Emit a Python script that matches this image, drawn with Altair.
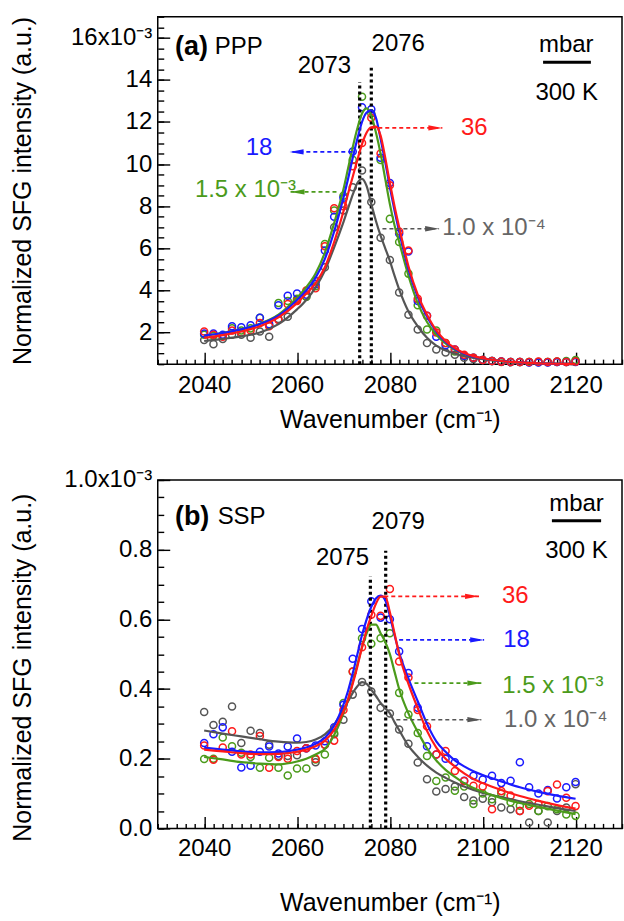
import altair as alt
import pandas as pd

FONT = "Liberation Sans"
RED = "#ff1a1a"
BLUE = "#1a1aff"
GREEN = "#4b9b1b"
GRAY = "#555555"
GRAY_TXT = "#666666"

series = ["1.0e-4", "1.5e-3", "18", "36"]
colors = [GRAY, GREEN, BLUE, RED]

# measured points, every 2 cm-1
x_pts = list(range(2040, 2121, 2))

# panel (a) PPP, units of 1e-3
a_gray = [1.65, 1.45, 1.7, 1.9, 1.9, 1.75, 2.05, 1.8, 2.65, 2.75, 3.55, 3.7, 4.45, 5.1, 7.0, 7.8, 8.9, 9.7, 8.2, 6.5,
          5.45, 3.9, 2.85, 2.15, 1.5, 1.2, 1.05, 0.95, 0.8, 0.75, 0.7, 0.65, 0.62, 0.6, 0.6, 0.6, 0.6, 0.6, 0.6, 0.6, 0.65]
a_green = [1.9, 1.85, 1.85, 2.2, 2.1, 2.2, 2.7, 2.35, 3.4, 3.5, 3.6, 3.7, 4.2, 6.2, 7.8, 8.5, 10.2, 13.2, 12.4, 10.2,
           7.4, 6.3, 4.8, 3.3, 2.15, 2.1, 1.5, 1.1, 0.9, 0.8, 0.7, 0.65, 0.6, 0.6, 0.6, 0.6, 0.6, 0.6, 0.62, 0.65, 0.7]
a_blue = [1.95, 1.95, 1.9, 2.3, 2.25, 2.35, 2.7, 2.4, 3.3, 3.75, 3.85, 3.8, 4.3, 5.9, 7.5, 8.4, 10.6, 12.7, 12.6, 10.3,
          9.1, 6.7, 5.85, 3.5, 2.8, 1.8, 1.4, 1.2, 0.9, 0.8, 0.7, 0.65, 0.62, 0.6, 0.6, 0.58, 0.58, 0.58, 0.6, 0.6, 0.6]
a_red = [2.05, 1.9, 1.8, 2.1, 2.0, 2.1, 2.45, 2.3, 2.6, 3.35, 3.5, 4.0, 4.1, 6.1, 7.9, 8.0, 9.9, 11.0, 12.2, 10.5,
         9.0, 6.8, 5.9, 3.6, 2.8, 2.0, 1.5, 1.2, 0.95, 0.8, 0.7, 0.65, 0.62, 0.6, 0.6, 0.6, 0.62, 0.6, 0.62, 0.6, 0.62]

# panel (b) SSP, units of 1e-3
b_gray = [0.334, 0.297, 0.306, 0.35, 0.245, 0.28, 0.274, 0.24, 0.208, 0.208, 0.21, 0.23, 0.19, 0.24, 0.27, 0.312,
          0.384, 0.42, 0.393, 0.346, 0.33, 0.284, 0.243, 0.189, 0.141, 0.106, 0.113, 0.12, 0.09, 0.08, 0.085, 0.075,
          0.06, 0.055, 0.05, 0.017, 0.05, 0.017, 0.05, 0.06, 0.127]
b_green = [0.199, 0.2, 0.261, 0.236, 0.217, 0.205, 0.174, 0.203, 0.174, 0.152, 0.172, 0.172, 0.198, 0.212, 0.274,
           0.36, 0.45, 0.546, 0.53, 0.546, 0.56, 0.389, 0.327, 0.274, 0.208, 0.136, 0.146, 0.108, 0.12, 0.07, 0.1,
           0.084, 0.1, 0.075, 0.065, 0.07, 0.05, 0.064, 0.055, 0.04, 0.036]
b_blue = [0.245, 0.27, 0.29, 0.22, 0.175, 0.18, 0.22, 0.235, 0.215, 0.235, 0.258, 0.23, 0.238, 0.25, 0.29, 0.355,
          0.487, 0.572, 0.652, 0.605, 0.6, 0.508, 0.446, 0.346, 0.236, 0.212, 0.2, 0.19, 0.137, 0.151, 0.14, 0.151,
          0.13, 0.137, 0.19, 0.118, 0.1, 0.11, 0.086, 0.118, 0.133]
b_red = [0.238, 0.197, 0.232, 0.279, 0.212, 0.212, 0.265, 0.174, 0.205, 0.2, 0.222, 0.23, 0.2, 0.24, 0.252, 0.34,
         0.45, 0.52, 0.613, 0.61, 0.687, 0.479, 0.433, 0.34, 0.293, 0.212, 0.222, 0.165, 0.136, 0.122, 0.12, 0.055,
         0.107, 0.094, 0.05, 0.065, 0.07, 0.107, 0.126, 0.088, 0.064]

# fitted curves
x_fit = [2040, 2044, 2048, 2052, 2056, 2060, 2062, 2064, 2066, 2068, 2070, 2071, 2072, 2073, 2074, 2075, 2076,
         2077, 2078, 2079, 2080, 2081, 2082, 2084, 2086, 2088, 2090, 2092, 2094, 2096, 2098, 2100, 2104, 2108,
         2112, 2116, 2120]
fa_blue = [1.86, 1.98, 2.15, 2.4, 2.8, 3.55, 4.0, 4.6, 5.5, 6.8, 8.4, 9.3, 10.3, 11.2, 12.0, 12.45, 12.55, 12.2,
           11.2, 10.1, 8.9, 7.8, 6.8, 5.0, 3.7, 2.75, 2.05, 1.55, 1.22, 1.0, 0.86, 0.77, 0.65, 0.58, 0.54, 0.52, 0.5]
fa_green = [1.86, 1.98, 2.15, 2.42, 2.85, 3.65, 4.15, 4.8, 5.8, 7.2, 8.8, 9.8, 10.8, 11.7, 12.4, 12.65, 12.3, 11.5,
            10.5, 9.3, 8.1, 7.1, 6.3, 4.7, 3.4, 2.5, 1.9, 1.48, 1.18, 0.98, 0.85, 0.76, 0.64, 0.57, 0.54, 0.52, 0.5]
fa_red = [1.75, 1.88, 2.05, 2.3, 2.72, 3.4, 3.85, 4.35, 5.1, 6.3, 7.75, 8.6, 9.4, 10.2, 10.95, 11.5, 11.75, 11.78,
          11.35, 10.3, 9.1, 8.0, 7.0, 5.15, 3.8, 2.85, 2.1, 1.6, 1.26, 1.03, 0.88, 0.78, 0.65, 0.58, 0.54, 0.52, 0.5]
fa_gray = [1.6, 1.7, 1.82, 2.0, 2.4, 3.1, 3.55, 4.15, 4.95, 6.05, 7.25, 7.9, 8.55, 9.1, 9.3, 8.95, 8.1, 7.3, 6.6,
           6.0, 5.4, 4.7, 4.05, 3.0, 2.3, 1.75, 1.38, 1.15, 1.0, 0.88, 0.8, 0.74, 0.64, 0.58, 0.54, 0.52, 0.5]

fb_blue = [0.232, 0.226, 0.221, 0.218, 0.219, 0.226, 0.232, 0.243, 0.26, 0.295, 0.355, 0.395, 0.445, 0.5, 0.555,
           0.6, 0.636, 0.66, 0.668, 0.655, 0.61, 0.555, 0.505, 0.43, 0.365, 0.3, 0.25, 0.22, 0.195, 0.178, 0.164,
           0.153, 0.135, 0.118, 0.105, 0.094, 0.085]
fb_red = [0.226, 0.221, 0.216, 0.213, 0.214, 0.22, 0.226, 0.236, 0.252, 0.283, 0.335, 0.37, 0.415, 0.465, 0.52,
          0.57, 0.61, 0.645, 0.665, 0.665, 0.62, 0.56, 0.5, 0.415, 0.345, 0.28, 0.232, 0.2, 0.178, 0.158, 0.142,
          0.13, 0.11, 0.093, 0.079, 0.067, 0.057]
fb_green = [0.205, 0.198, 0.19, 0.186, 0.184, 0.192, 0.2, 0.212, 0.228, 0.268, 0.33, 0.37, 0.42, 0.47, 0.52, 0.56,
            0.585, 0.585, 0.56, 0.535, 0.5, 0.45, 0.4, 0.33, 0.277, 0.23, 0.195, 0.168, 0.148, 0.13, 0.116, 0.105,
            0.087, 0.073, 0.062, 0.051, 0.041]
fb_gray = [0.281, 0.272, 0.264, 0.256, 0.249, 0.246, 0.248, 0.255, 0.27, 0.298, 0.341, 0.365, 0.389, 0.408, 0.42,
           0.415, 0.398, 0.38, 0.36, 0.345, 0.33, 0.305, 0.282, 0.237, 0.206, 0.18, 0.16, 0.145, 0.132, 0.12, 0.11,
           0.102, 0.09, 0.078, 0.068, 0.058, 0.05]

# annotations
a_texts_c = {"t": ["2073", "2076", "mbar", "300 K", "36", "18"],
             "x": [2065.9, 2081.8, 2118.0, 2118.1, 2098.2, 2051.8],
             "y": [14.65, 15.72, 15.65, 13.4, 11.7, 10.77],
             "c": ["black", "black", "black", "black", RED, BLUE]}
a_texts_l = {"t": ["PPP", "1.5 x 10⁻³", "1.0 x 10⁻⁴"],
             "x": [2042.3, 2038.0, 2091.3],
             "y": [15.55, 8.78, 6.98],
             "c": ["black", GREEN, GRAY_TXT]}
a_bold = {"t": ["(a)"], "x": [2033.7], "y": [15.55]}
a_vlines = {"x": [2073.5, 2076.0], "y": [0.5, 0.5], "y2": [13.9, 14.7]}
a_arrows = {"x": [2076.0, 2071.9, 2068.5, 2078.4], "x2": [2091.3, 2058.4, 2058.6, 2090.6],
            "y": [11.72, 10.58, 8.68, 6.93], "c": [RED, BLUE, GREEN, GRAY]}
a_heads = {"x": [2089.8, 2059.9, 2060.1, 2089.1], "y": [11.72, 10.58, 8.68, 6.93],
           "c": [RED, BLUE, GREEN, GRAY], "d": ["r", "l", "l", "r"]}
a_bar = {"x": [2113.0], "x2": [2123.3], "y": [14.84]}

b_texts_c = {"t": ["2079", "2075", "mbar", "300 K", "36", "18"],
             "x": [2081.8, 2069.8, 2120.2, 2120.2, 2107.0, 2107.3],
             "y": [0.88, 0.777, 0.931, 0.797, 0.666, 0.54],
             "c": ["black", "black", "black", "black", RED, BLUE]}
b_texts_l = {"t": ["SSP", "1.5 x 10⁻³", "1.0 x 10⁻⁴"],
             "x": [2042.9, 2104.2, 2104.6],
             "y": [0.894, 0.409, 0.312],
             "c": ["black", GREEN, GRAY_TXT]}
b_bold = {"t": ["(b)"], "x": [2033.7], "y": [0.894]}
b_vlines = {"x": [2075.8, 2079.1], "y": [0.0, 0.0], "y2": [0.723, 0.797]}
b_arrows = {"x": [2078.8, 2082.0, 2085.3, 2081.4], "x2": [2099.2, 2100.3, 2099.7, 2099.7],
            "y": [0.666, 0.541, 0.417, 0.312], "c": [RED, BLUE, GREEN, GRAY]}
b_heads = {"x": [2097.7, 2098.8, 2098.2, 2098.2], "y": [0.666, 0.541, 0.417, 0.312],
           "c": [RED, BLUE, GREEN, GRAY], "d": ["r", "r", "r", "r"]}
b_bar = {"x": [2114.9], "x2": [2125.5], "y": [0.883]}

W = 465
RIGHT_HEAD = "M-1,-0.38L1,0L-1,0.38Z"
LEFT_HEAD = "M1,-0.38L-1,0L1,0.38Z"


def long_df(xs, arrays):
    rows = []
    for s, arr in zip(series, arrays):
        for xv, yv in zip(xs, arr):
            rows.append({"x": xv, "y": yv, "s": s})
    return pd.DataFrame(rows)


def panel(pts_df, fit_df, ydom, ymaj, ymin_ticks, label_expr, h, title_dy, xtitle_y, xlab_pad,
          tc, tl, tb, vl, ar, hd, bar):
    xs = alt.Scale(domain=[2030, 2130], nice=False, zero=False)
    ys = alt.Scale(domain=ydom, nice=False, zero=False)
    col = alt.Color("s:N", scale=alt.Scale(domain=series, range=colors), legend=None)

    x_lab = alt.Axis(values=[2040, 2060, 2080, 2100, 2120], format="d", ticks=False, domain=False, grid=False,
                     labelPadding=xlab_pad, labelFontSize=24, labelOverlap=False, labelFlush=False,
                     title="Wavenumber (cm⁻¹)", titleFontSize=25, titleFontWeight="normal",
                     titleX=W / 2, titleY=xtitle_y, titleBaseline="middle", titleAlign="center", orient="bottom")
    y_lab = alt.Axis(values=ymaj, labelExpr=label_expr, ticks=False, domain=False, grid=False,
                     labelPadding=6, labelFontSize=24, labelOverlap=False,
                     title="Normalized SFG intensity (a.u.)", titleFontSize=25, titleFontWeight="normal",
                     titleX=-135, titleY=h / 2 + title_dy, titleAngle=-90, titleBaseline="middle",
                     titleAlign="center", orient="left")

    def tick_axis(orient, offset, values, size):
        return alt.Axis(orient=orient, offset=offset, values=values, tickSize=size, tickWidth=1.4,
                        tickColor="black", labels=False, domain=False, grid=False, title=None)

    base_fit = alt.Chart(fit_df)

    pts = alt.Chart(pts_df).mark_point(filled=False, size=50, strokeWidth=1.5, opacity=1).encode(
        x=alt.X("x:Q", scale=xs, axis=x_lab),
        y=alt.Y("y:Q", scale=ys, axis=y_lab),
        color=col)

    lines = base_fit.mark_line(strokeWidth=2.2, interpolate="monotone").encode(
        x=alt.X("x:Q", scale=xs, axis=None),
        y=alt.Y("y:Q", scale=ys, axis=None),
        color=col, detail="s:N")

    ticks = []
    for ax_x, ax_y in [
        (tick_axis("top", -h, list(range(2030, 2131, 2)), 5), None),
        (tick_axis("top", -h, [2040, 2060, 2080, 2100, 2120], 12), None),
        (None, tick_axis("right", -W, ymin_ticks, 6)),
        (None, tick_axis("right", -W, ymaj, 12)),
    ]:
        ticks.append(base_fit.mark_point(opacity=0).encode(
            x=alt.X("x:Q", scale=xs, axis=ax_x),
            y=alt.Y("y:Q", scale=ys, axis=ax_y)))

    vlines = alt.Chart(pd.DataFrame(vl)).mark_rule(color="black", strokeWidth=3.2, strokeDash=[3, 3]).encode(
        x=alt.X("x:Q", scale=xs, axis=None),
        y=alt.Y("y:Q", scale=ys, axis=None),
        y2="y2:Q")

    arrows = alt.Chart(pd.DataFrame(ar)).mark_rule(strokeWidth=1.6, strokeDash=[4, 3]).encode(
        x=alt.X("x:Q", scale=xs, axis=None),
        x2="x2:Q",
        y=alt.Y("y:Q", scale=ys, axis=None),
        color=alt.Color("c:N", scale=None))

    hdf = pd.DataFrame(hd)
    hdf["shape"] = [RIGHT_HEAD if d == "r" else LEFT_HEAD for d in hdf["d"]]
    heads = alt.Chart(hdf).mark_point(filled=True, size=196, opacity=1, strokeWidth=0).encode(
        x=alt.X("x:Q", scale=xs, axis=None),
        y=alt.Y("y:Q", scale=ys, axis=None),
        color=alt.Color("c:N", scale=None),
        shape=alt.Shape("shape:N", scale=None))

    barl = alt.Chart(pd.DataFrame(bar)).mark_rule(color="black", strokeWidth=3).encode(
        x=alt.X("x:Q", scale=xs, axis=None),
        x2="x2:Q",
        y=alt.Y("y:Q", scale=ys, axis=None))

    txt_c = alt.Chart(pd.DataFrame(tc)).mark_text(fontSize=24, align="center", baseline="middle", font=FONT).encode(
        x=alt.X("x:Q", scale=xs, axis=None),
        y=alt.Y("y:Q", scale=ys, axis=None),
        text="t:N",
        color=alt.Color("c:N", scale=None))
    txt_l = alt.Chart(pd.DataFrame(tl)).mark_text(fontSize=24, align="left", baseline="middle", font=FONT).encode(
        x=alt.X("x:Q", scale=xs, axis=None),
        y=alt.Y("y:Q", scale=ys, axis=None),
        text="t:N",
        color=alt.Color("c:N", scale=None))
    txt_b = alt.Chart(pd.DataFrame(tb)).mark_text(fontSize=27, fontWeight="bold", align="left", baseline="middle",
                                                  font=FONT, color="black").encode(
        x=alt.X("x:Q", scale=xs, axis=None),
        y=alt.Y("y:Q", scale=ys, axis=None),
        text="t:N")

    return alt.layer(pts, *ticks, vlines, lines, arrows, heads, barl, txt_c, txt_l, txt_b).resolve_axis(
        x="independent", y="independent").properties(width=W, height=h)


pts_a = long_df(x_pts, [a_gray, a_green, a_blue, a_red])
fit_a = long_df(x_fit, [fa_gray, fa_green, fa_blue, fa_red])
pts_b = long_df(x_pts, [b_gray, b_green, b_blue, b_red])
fit_b = long_df(x_fit, [fb_gray, fb_green, fb_blue, fb_red])

top = panel(pts_a, fit_a, [0.5, 17], [2, 4, 6, 8, 10, 12, 14, 16], [i * 0.5 for i in range(1, 35)],
            "datum.value == 16 ? '16x10⁻³' : format(datum.value, 'd')", 348, 0, 55, 9,
            a_texts_c, a_texts_l, a_bold, a_vlines, a_arrows, a_heads, a_bar)
bottom = panel(pts_b, fit_b, [0, 1.0], [0, 0.2, 0.4, 0.6, 0.8, 1.0], [round(i * 0.05, 2) for i in range(0, 21)],
               "datum.value == 1 ? '1.0x10⁻³' : format(datum.value, '.1f')", 349, 13, 74, 8,
               b_texts_c, b_texts_l, b_bold, b_vlines, b_arrows, b_heads, b_bar)

chart = alt.vconcat(top, bottom, spacing=34).properties(
    padding={"left": 10, "top": 14, "right": 0, "bottom": 0}
).configure(font=FONT).configure_view(stroke="black", strokeWidth=1.5).configure_axis(
    labelFont=FONT, titleFont=FONT, labelColor="black", titleColor="black")

chart.save("out.html", embed_options={"renderer": "svg", "actions": False})
